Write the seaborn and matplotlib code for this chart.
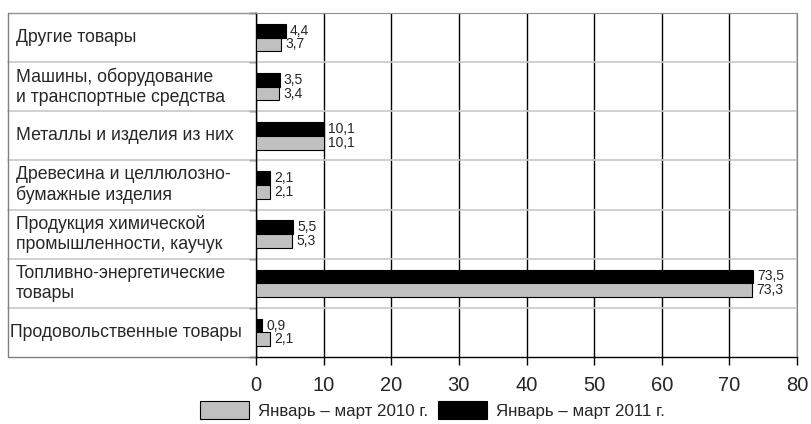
import numpy as np
import pandas as pd
import matplotlib
matplotlib.use('Agg')
import matplotlib.pyplot as plt
import seaborn as sns
from matplotlib.patches import Patch

categories = ['Другие товары',
              'Машины, оборудование\nи транспортные средства',
              'Металлы и изделия из них',
              'Древесина и целлюлозно-\nбумажные изделия',
              'Продукция химической\nпромышленности, каучук',
              'Топливно-энергетические\nтовары',
              'Продовольственные товары']
val_2011 = [4.4, 3.5, 10.1, 2.1, 5.5, 73.5, 0.9]
val_2010 = [3.7, 3.4, 10.1, 2.1, 5.3, 73.3, 2.1]
lab_2010 = 'Январь – март 2010 г.'
lab_2011 = 'Январь – март 2011 г.'

df = pd.DataFrame({
    'cat': categories * 2,
    'val': val_2011 + val_2010,
    'period': [lab_2011] * 7 + [lab_2010] * 7,
})

sns.set_style('white')
plt.rcParams['font.family'] = ['Liberation Sans', 'DejaVu Sans']

fig = plt.figure(figsize=(8.11, 4.24), dpi=100)
ax = fig.add_axes([256/811, 67/424, 541/811, 344/424])

pal = {lab_2011: 'black', lab_2010: '#c0c0c0'}
sns.barplot(data=df, y='cat', x='val', hue='period', hue_order=[lab_2011, lab_2010],
            palette=pal, orient='h', width=0.56, errorbar=None, edgecolor='black',
            linewidth=0.8, ax=ax, legend=False, zorder=3)

for cont in ax.containers:
    ax.bar_label(cont, fmt=lambda v: f'{v:.1f}'.replace('.', ','), padding=3,
                 fontsize=10, zorder=4)

ax.set_xlim(0, 80)
ax.set_ylim(6.5, -0.5)
ax.set_xticks(range(0, 81, 10))
ax.tick_params(axis='x', labelsize=14.5, length=6, width=1, direction='out',
               color='black', pad=8, bottom=True)
ax.set_yticks([])
ax.set_yticks(np.arange(-0.5, 7, 1), minor=True)
ax.tick_params(axis='y', which='minor', length=5, width=1, color='black', left=True)
ax.set_xlabel('')
ax.set_ylabel('')
ax.xaxis.grid(True, color='black', lw=1, zorder=0)

for s in ['left', 'bottom']:
    ax.spines[s].set_color('black')
    ax.spines[s].set_linewidth(1)
ax.spines['right'].set_color('#808080')
ax.spines['top'].set_color('#909090')

# рамка и разделители в области подписей
lx = (8 - 256) / 541
trans = ax.get_yaxis_transform()
for i in range(6):
    ax.plot([lx, 1], [i + 0.5, i + 0.5], transform=trans, color='#c8c8c8',
            lw=1.2, clip_on=False, zorder=1)
ax.plot([lx, 0], [-0.5, -0.5], transform=trans, color='#909090', lw=1, clip_on=False)
ax.plot([lx, 0], [6.5, 6.5], transform=trans, color='#808080', lw=1, clip_on=False)
ax.plot([lx, lx], [-0.5, 6.5], transform=trans, color='#808080', lw=1, clip_on=False)

tx = (16 - 256) / 541
for i, c in enumerate(categories):
    x = tx if i != 6 else (10 - 256) / 541
    ax.text(x, i, c, transform=trans, ha='left', va='center', fontsize=12.7,
            linespacing=1.25)

handles = [Patch(facecolor='#c0c0c0', edgecolor='black', lw=0.8, label=lab_2010),
           Patch(facecolor='black', edgecolor='black', lw=0.8, label=lab_2011)]
fig.legend(handles=handles, loc='center', bbox_to_anchor=(0.533, 0.033), ncol=2,
           frameon=False, fontsize=12.2, handlelength=2.9, handleheight=1.3,
           columnspacing=0.6, handletextpad=0.5)

fig.savefig('out.png', dpi=100)
